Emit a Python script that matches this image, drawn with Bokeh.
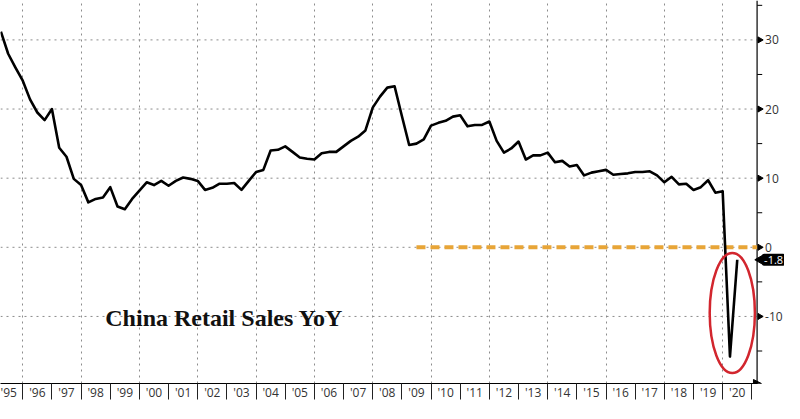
import math
from bokeh.plotting import figure
from bokeh.models import FixedTicker, Label, Range1d, Arrow, NormalHead
from bokeh.core.properties import value
from bokeh.embed import file_html
from bokeh.resources import INLINE

# Quarterly China retail sales YoY (%), 1995Q1 .. 2020Q2
first_year = 1995
retail_yoy = [31.2, 28.0, 26.0, 24.1, 21.4, 19.5, 18.4, 20.0, 14.4, 13.1,
              9.9, 9.0, 6.5, 7.0, 7.2, 8.7, 5.9, 5.5, 7.0, 8.2,
              9.4, 9.0, 9.6, 8.9, 9.6, 10.1, 9.9, 9.6, 8.3, 8.6,
              9.2, 9.2, 9.3, 8.3, 9.6, 10.9, 11.2, 14.0, 14.1, 14.6,
              13.8, 13.0, 12.8, 12.7, 13.6, 13.8, 13.8, 14.6, 15.4, 16.0,
              16.9, 20.2, 21.8, 23.1, 23.3, 19.0, 14.8, 15.0, 15.6, 17.6,
              18.0, 18.3, 18.9, 19.1, 17.5, 17.7, 17.7, 18.2, 15.4, 13.7,
              14.3, 15.3, 12.7, 13.3, 13.3, 13.7, 12.3, 12.5, 11.7, 11.9,
              10.4, 10.8, 11.0, 11.2, 10.5, 10.6, 10.7, 10.9, 10.9, 11.0,
              10.4, 9.4, 10.2, 9.1, 9.2, 8.3, 8.7, 9.7, 7.9, 8.1,
              -15.8, -1.8]
year_labels = ["'95", "'96", "'97", "'98", "'99", "'00", "'01", "'02", "'03",
               "'04", "'05", "'06", "'07", "'08", "'09", "'10", "'11", "'12",
               "'13", "'14", "'15", "'16", "'17", "'18", "'19", "'20"]
y_major = [-10, 0, 10, 20, 30]
y_major_labels = ["-10", "0", "10", "20", "30"]
y_minor = [-15, -5, 5, 15, 25, 35]
zero_line_level = 0.0
zero_line_start = 2009.5
last_value_text = "-1.8"
chart_title = "China Retail Sales YoY"

# quarter-end positions in decimal years
x_q = [first_year + 0.25 * (i + 1) for i in range(len(retail_yoy))]
year_mids = [first_year + k + 0.5 for k in range(len(year_labels))]
year_edges = [first_year + k for k in range(1, len(year_labels) + 1)]

X0, X_AXIS, X1 = 1995.237, 2021.18, 2022.12
Y0, Y1 = -19.7, 35.7

p = figure(width=784, height=403, x_range=Range1d(X0, X1), y_range=Range1d(Y0, Y1),
           y_axis_location=None, output_backend="svg", toolbar_location=None,
           min_border_left=0, min_border_top=0, min_border_right=0, min_border_bottom=0)
p.outline_line_color = None
p.background_fill_color = "white"
p.border_fill_color = "white"

GRID = "#8c8c8c"
# vertical grid (every second year)
p.xgrid.ticker = FixedTicker(ticks=list(range(1996, 2021, 2)))
p.xgrid.grid_line_color = GRID
p.xgrid.grid_line_dash = "2 4"
p.ygrid.visible = False
# horizontal grid stops at the axis line
p.segment(x0=[X0] * len(y_major), x1=[X_AXIS] * len(y_major), y0=y_major, y1=y_major,
          line_color=GRID, line_dash="2 4", line_width=1)

# x axis: year labels centred on each year, separators at year boundaries
xa = p.xaxis[0]
xa.bounds = (X0, X_AXIS)
xa.ticker = FixedTicker(ticks=year_mids, minor_ticks=year_edges)
xa.major_label_overrides = {m: lab for m, lab in zip(year_mids, year_labels)}
xa.major_tick_out = 0
xa.major_tick_in = 0
xa.minor_tick_out = 0
xa.minor_tick_in = -16
xa.minor_tick_line_color = "#222222"
xa.axis_line_color = "black"
xa.axis_line_width = 1.2
xa.major_label_standoff = 0
xa.major_label_text_font = "Open Sans"
xa.major_label_text_font_size = "12px"
xa.major_label_text_color = "#333333"

# right value axis: line, tick marks and labels at X_AXIS
p.segment(x0=[X_AXIS], x1=[X_AXIS], y0=[Y0], y1=[Y1], line_color="black", line_width=1.2)
p.scatter(x=[X_AXIS + 0.09] * len(y_major), y=y_major, marker="triangle", angle=-math.pi / 2,
          size=6, fill_color="black", line_color="black")
p.scatter(x=[X_AXIS + 0.09] * len(y_minor), y=y_minor, marker="dash", size=5,
          line_color="black", line_width=1)
p.text(x=[X_AXIS] * len(y_major), y=y_major, text=y_major_labels, x_offset=8,
       text_baseline="middle", text_align="left", text_font=value("Open Sans"),
       text_font_size="12px", text_color="#333333")

# orange dashed zero line
p.line([zero_line_start, X_AXIS], [zero_line_level, zero_line_level], line_color="#E8A537",
       line_width=4, line_dash="9 5")

# main series
p.line(x_q, retail_yoy, line_color="black", line_width=2.6, line_join="round")

# red highlight ellipse
p.ellipse(x=[2020.33], y=[-9.5], width=[1.55], height=[17.4], fill_alpha=0,
          line_color="#D2262E", line_width=2.5)

# title text
p.add_layout(Label(x=1998.83, y=-10.2, text=chart_title, text_font="Liberation Serif",
                   text_font_style="bold", text_font_size="24px", text_color="#111111",
                   text_baseline="alphabetic"))

# last value tag
p.scatter(x=[X_AXIS + 0.12], y=[retail_yoy[-1]], marker="triangle", angle=math.pi / 2,
          size=10, fill_color="black", line_color="black")
p.add_layout(Label(x=X_AXIS, y=retail_yoy[-1], text=last_value_text, x_offset=5,
                   text_color="white", text_font="Open Sans", text_font_size="11px",
                   text_baseline="middle", background_fill_color="black",
                   padding=2, border_radius=2))

# arrow at end of x axis
p.add_layout(Arrow(end=NormalHead(size=8, fill_color="black", line_color="black"),
                   x_start=X_AXIS - 0.3, x_end=X_AXIS + 0.15, y_start=Y0, y_end=Y0,
                   line_color="black", line_width=1))

open("out.html", "w").write(file_html(p, INLINE))
